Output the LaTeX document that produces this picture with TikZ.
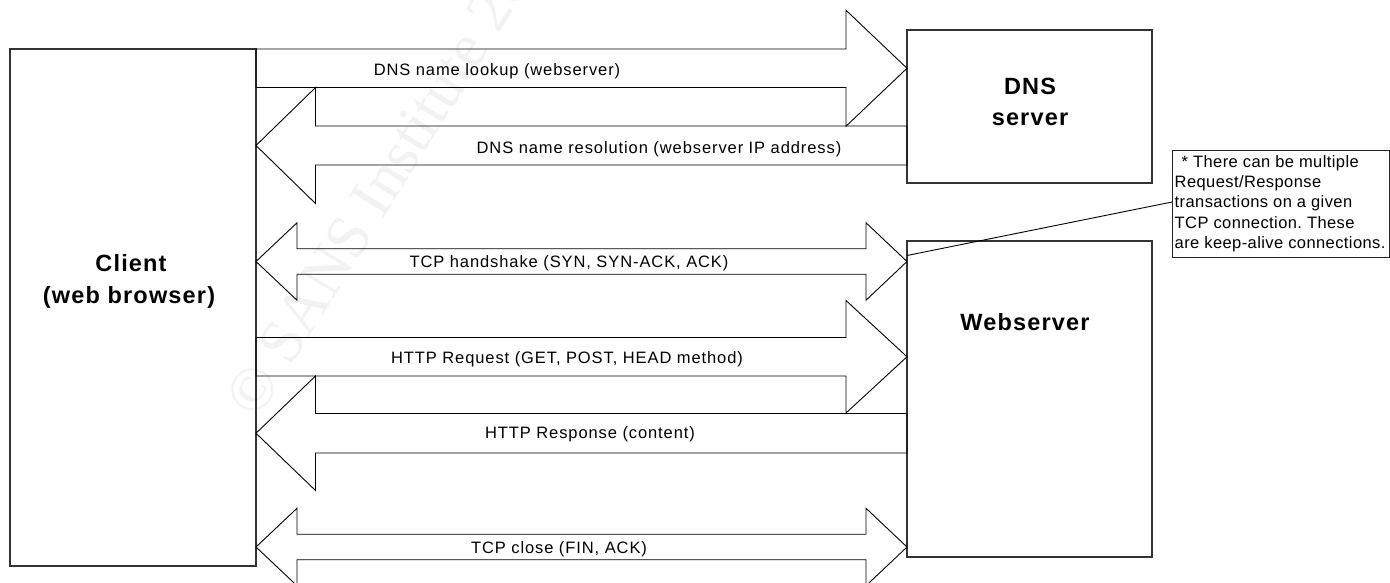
\documentclass[tikz,border=0pt]{standalone}
\usepackage{fontspec}
\setmainfont{Liberation Sans}
\newfontfamily\flowfont{Liberation Sans}[LetterSpace=5.5]
\newfontfamily\hostfont{Liberation Sans}[LetterSpace=5]
\newfontfamily\notefont{Liberation Sans}[LetterSpace=2.5]
\newfontfamily\wmfont{Liberation Serif}
\usetikzlibrary{calc}

% block arrow pointing from #1 to #2: centre y, body half, head half, head length
\newcommand\rblock[6]{%
  \draw[flow]
    (#1.east|-0,#3-#4)
    -- ($(#2.west|-0,#3-#4)+(-#6,0)$)
    -- ($(#2.west|-0,#3-#5)+(-#6,0)$)
    -- (#2.west|-0,#3)
    -- ($(#2.west|-0,#3+#5)+(-#6,0)$)
    -- ($(#2.west|-0,#3+#4)+(-#6,0)$)
    -- (#1.east|-0,#3+#4) -- cycle;}
% block arrow pointing from #2 back to #1
\newcommand\lblock[6]{%
  \draw[flow]
    (#2.west|-0,#3-#4)
    -- ($(#1.east|-0,#3-#4)+(#6,0)$)
    -- ($(#1.east|-0,#3-#5)+(#6,0)$)
    -- (#1.east|-0,#3)
    -- ($(#1.east|-0,#3+#5)+(#6,0)$)
    -- ($(#1.east|-0,#3+#4)+(#6,0)$)
    -- (#2.west|-0,#3+#4) -- cycle;}
% block arrow with heads at both ends
\newcommand\dblock[6]{%
  \draw[flow]
    (#1.east|-0,#3)
    -- ($(#1.east|-0,#3-#5)+(#6,0)$)
    -- ($(#1.east|-0,#3-#4)+(#6,0)$)
    -- ($(#2.west|-0,#3-#4)+(-#6,0)$)
    -- ($(#2.west|-0,#3-#5)+(-#6,0)$)
    -- (#2.west|-0,#3)
    -- ($(#2.west|-0,#3+#5)+(-#6,0)$)
    -- ($(#2.west|-0,#3+#4)+(-#6,0)$)
    -- ($(#1.east|-0,#3+#4)+(#6,0)$)
    -- ($(#1.east|-0,#3+#5)+(#6,0)$)
    -- cycle;}

\begin{document}
\frenchspacing
\begin{tikzpicture}[x=1pt,y=-1pt,
  hostbox/.style={draw=black!80, line width=1.1pt, outer sep=0pt, inner sep=0pt},
  flow/.style={draw=black, line width=0.9pt, line join=miter, miter limit=20},
  flowlabel/.style={font=\flowfont\fontsize{16.5}{20}\selectfont, anchor=base, inner sep=0pt},
  hostlabel/.style={font=\hostfont\bfseries\fontsize{23.5}{30}\selectfont, anchor=base, inner sep=0pt},
  noteline/.style={font=\notefont\fontsize{16.5}{20}\selectfont, anchor=base west, inner sep=0pt},
  notebox/.style={draw=black!85, line width=0.9pt, outer sep=0pt, inner sep=0pt},
  mark wm/.style={font=\wmfont\fontsize{62}{64}\selectfont, text=black!5, rotate=58, anchor=base west, inner sep=0pt}]
\useasboundingbox (0,0) rectangle (1390,582);
\clip (0,0) rectangle (1390,582);
\fill[white] (0,0) rectangle (1390,582);

% faint watermark behind the drawing
\node[mark wm] (wm) at (257,421) {\textcopyright\ SANS Institute 2003,};

% hosts
\node[hostbox, minimum width=246pt, minimum height=517pt] (client) at (133,307.5) {};
\node[hostbox, minimum width=245pt, minimum height=153pt] (dns) at (1029.5,106.5) {};
\node[hostbox, minimum width=245pt, minimum height=316pt] (web) at (1029.5,399) {};

\node[hostlabel] (clientA) at (131,271.7) {Client};
\node[hostlabel] (clientB) at (129,303.3) {(web browser)};
\node[hostlabel] (dnsA) at (1030,94) {DNS};
\node[hostlabel] (dnsB) at (1030,125) {server};
\node[hostlabel] (webA) at (1025,330) {Webserver};

% message exchange
\rblock{client}{dns}{68.25}{19.25}{58}{61}
\lblock{client}{dns}{145.5}{19.5}{58}{59.5}
\dblock{client}{web}{261.5}{12.75}{38.75}{41}
\rblock{client}{web}{356.75}{19.25}{56.25}{61}
\lblock{client}{web}{433.25}{19.75}{57.25}{59.5}
\dblock{client}{web}{547}{12.75}{38.75}{41}

\node[flowlabel] (m1) at (497,75.8) {DNS name lookup (webserver)};
\node[flowlabel] (m2) at (659,153.6) {DNS name resolution (webserver IP address)};
\node[flowlabel] (m3) at (569,267.7) {TCP handshake (SYN, SYN-ACK, ACK)};
\node[flowlabel] (m4) at (567,363.6) {HTTP Request (GET, POST, HEAD method)};
\node[flowlabel] (m5) at (590,438.2) {HTTP Response (content)};
\node[flowlabel] (m6) at (559,553) {TCP close (FIN, ACK)};

% annotation
\node[notebox, minimum width=217pt, minimum height=107pt] (note) at (1280.5,203.5) {};
\node[noteline] (n1) at (1181.5,167.3) {* There can be multiple};
\node[noteline] (n2) at (1174.5,187.6) {Request/Response};
\node[noteline] (n3) at (1174.5,207.9) {transactions on a given};
\node[noteline] (n4) at (1174.5,228.2) {TCP connection. These};
\node[noteline] (n5) at (1174.5,248.5) {are keep-alive connections.};
\draw[line width=0.9pt] (note.west|-0,202) -- (web.west|-0,255.5);
\end{tikzpicture}
\end{document}
